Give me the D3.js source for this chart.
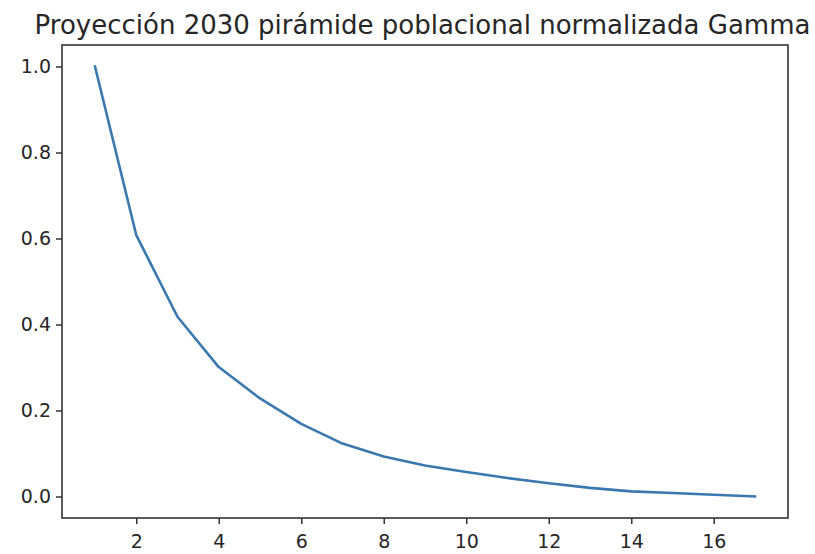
<!DOCTYPE html>
<html><head><meta charset="utf-8">
<script src="https://cdn.jsdelivr.net/npm/d3@7"></script>
<style>body{margin:0;background:#fff}svg{display:block}text{font-family:"DejaVu Sans",sans-serif;fill:#262626}</style>
</head><body>
<svg id="c" width="815" height="554"></svg>
<script>
const titleText = "Proyección 2030 pirámide poblacional normalizada Gamma";
const xValues = [1,2,3,4,5,6,7,8,9,10,11,12,13,14,15,16,17];
const yValues = [1.0,0.608,0.418,0.301,0.228,0.169,0.123,0.093,0.072,0.057,0.043,0.031,0.020,0.012,0.008,0.004,0.0];
const xTicks = [2,4,6,8,10,12,14,16];
const yTicks = [0.0,0.2,0.4,0.6,0.8,1.0];

const svg = d3.select("#c");
const L = 62, R = 788, T = 45, B = 518;
const xPad = (d3.max(xValues)-d3.min(xValues))*0.05;
const yPad = (d3.max(yValues)-d3.min(yValues))*0.05;
const x = d3.scaleLinear().domain([d3.min(xValues)-xPad, d3.max(xValues)+xPad]).range([L,R]);
const y = d3.scaleLinear().domain([d3.min(yValues)-yPad, d3.max(yValues)+yPad]).range([B,T]);

const line = d3.line().x((d,i)=>x(xValues[i])).y(d=>y(d));
svg.append("path").datum(yValues).attr("d", line)
  .attr("fill","none").attr("stroke","#3b78b0").attr("stroke-width",2.6)
  .attr("stroke-linejoin","round").attr("stroke-linecap","square");

const xa = svg.append("g").attr("transform",`translate(0,${B})`)
  .call(d3.axisBottom(x).tickValues(xTicks).tickFormat(d3.format("d")).tickSize(6).tickPadding(11));
const ya = svg.append("g").attr("transform",`translate(${L},0)`)
  .call(d3.axisLeft(y).tickValues(yTicks).tickFormat(d3.format(".1f")).tickSize(6).tickPadding(5));
[xa,ya].forEach(g=>{
  g.select(".domain").remove();
  g.selectAll(".tick line").attr("stroke","#333").attr("stroke-width",1.5);
  g.selectAll(".tick text").attr("font-size",19).attr("fill","#262626").style("font-family","'DejaVu Sans',sans-serif");
});
svg.append("rect").attr("x",L).attr("y",T).attr("width",R-L).attr("height",B-T)
  .attr("fill","none").attr("stroke","#333").attr("stroke-width",1.6);

svg.append("text").attr("x",(L+R)/2 - 2.5).attr("y",34).attr("text-anchor","middle")
  .attr("font-size",26).text(titleText);
</script>
</body></html>
